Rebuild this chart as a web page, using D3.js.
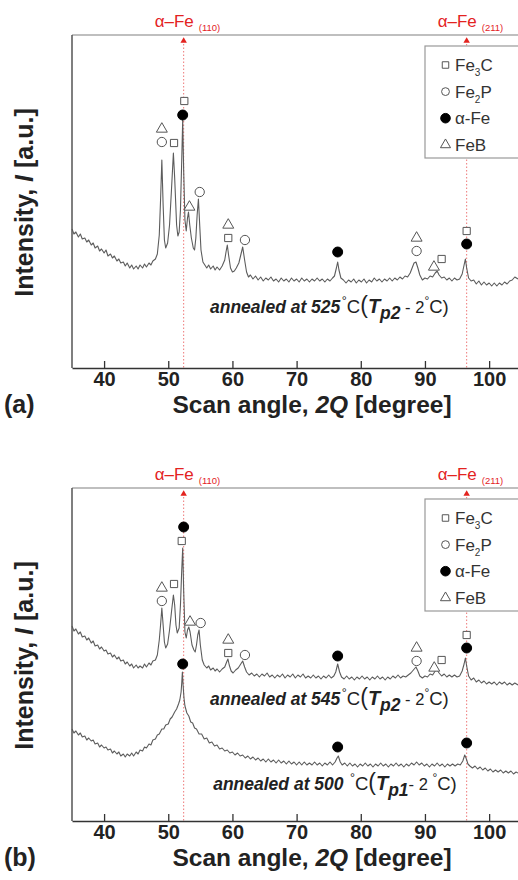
<!DOCTYPE html>
<html><head><meta charset="utf-8">
<script src="https://cdn.jsdelivr.net/npm/d3@7"></script>
<style>body{margin:0;background:#fff} svg{display:block} text{font-family:"Liberation Sans",Arial,Helvetica,sans-serif}</style>
</head><body><svg id="c" width="518" height="880"></svg>
<script>
// ---------------- data ----------------
const angleTicks = [40, 50, 60, 70, 80, 90, 100];
const refLines = [{angle: 52.4, hkl: "(110)"}, {angle: 96.5, hkl: "(211)"}];
const phaseNames = ["Fe3C", "Fe2P", "aFe", "FeB"];

// panel (a): annealed at 525 °C
const traceA525 = [[35.0,139],[35.3,134],[35.6,136],[36.0,131],[36.3,134],[36.6,129],[37.0,130],[37.3,126],[37.6,128],[38.0,123],[38.3,125],[38.6,120],[39.0,122],[39.3,117],[39.6,119],[40.0,115],[40.3,118],[40.6,112],[41.0,114],[41.3,110],[41.6,112],[42.0,107],[42.3,109],[42.6,105],[43.0,106],[43.3,102],[43.6,105],[44.0,100],[44.3,103],[44.6,99],[45.0,102],[45.3,99],[45.6,103],[46.0,100],[46.3,104],[46.6,101],[47.0,105],[47.3,103],[47.6,107],[48.0,109],[48.3,114],[48.6,133],[48.8,168],[49.0,208],[49.2,163],[49.4,128],[49.6,120],[49.9,125],[50.2,143],[50.5,178],[50.8,215],[51.0,190],[51.3,143],[51.5,132],[51.7,136],[51.9,158],[52.1,208],[52.25,248],[52.4,198],[52.6,148],[52.8,137],[53.0,150],[53.15,156],[53.35,143],[53.6,130],[53.9,120],[54.1,118],[54.3,130],[54.5,153],[54.7,169],[54.9,143],[55.1,118],[55.4,106],[55.7,103],[56.0,100],[56.3,103],[56.6,99],[57.0,102],[57.3,98],[57.6,101],[58.0,98],[58.4,102],[58.8,108],[59.0,116],[59.2,123],[59.4,113],[59.7,100],[60.0,96],[60.3,97],[60.6,100],[61.0,105],[61.3,113],[61.6,121],[61.9,108],[62.2,96],[62.5,91],[62.8,93],[63.2,89],[63.6,92],[64.0,88],[64.4,91],[64.8,87],[65.2,90],[65.6,88],[66.0,91],[66.4,87],[66.8,89],[67.2,86],[67.6,90],[68.0,87],[68.4,89],[68.8,86],[69.2,90],[69.6,87],[70.0,89],[70.4,86],[70.8,90],[71.2,87],[71.6,89],[72.0,86],[72.4,89],[72.8,87],[73.2,90],[73.6,87],[74.0,89],[74.4,86],[74.8,89],[75.2,87],[75.6,90],[75.9,92],[76.2,100],[76.4,106],[76.6,98],[76.9,90],[77.3,88],[77.7,85],[78.1,88],[78.5,86],[78.9,89],[79.3,85],[79.7,88],[80.1,86],[80.5,89],[80.9,85],[81.3,88],[81.7,86],[82.1,90],[82.5,87],[82.9,89],[83.3,86],[83.7,89],[84.1,87],[84.5,90],[84.9,87],[85.3,90],[85.7,88],[86.1,91],[86.5,89],[86.9,92],[87.3,91],[87.7,95],[88.0,100],[88.3,105],[88.6,106],[88.9,100],[89.2,93],[89.6,88],[90.0,90],[90.4,89],[90.8,92],[91.2,91],[91.6,95],[91.9,97],[92.2,93],[92.6,90],[93.0,91],[93.4,88],[93.8,90],[94.2,87],[94.6,90],[95.0,88],[95.4,89],[95.8,94],[96.1,103],[96.3,109],[96.5,100],[96.8,90],[97.2,87],[97.6,88],[98.0,84],[98.4,87],[98.8,83],[99.2,86],[99.6,83],[100.0,85],[100.4,82],[100.8,85],[101.2,82],[101.6,85],[102.0,83],[102.4,86],[102.8,84],[103.2,87],[103.6,88],[104.0,91],[104.5,89]];
const markersA525 = [[49.0,239,"FeB"],[49.0,226,"Fe2P"],[50.9,225,"Fe3C"],[52.5,267,"Fe3C"],[52.25,253,"aFe"],[53.3,161,"FeB"],[54.9,176,"Fe2P"],[59.35,143,"FeB"],[59.35,130,"Fe3C"],[61.95,128,"Fe2P"],[76.4,116,"aFe"],[88.7,130,"FeB"],[88.7,117,"Fe2P"],[91.4,101,"FeB"],[92.6,109,"Fe3C"],[96.5,137,"Fe3C"],[96.5,124,"aFe"]];

// panel (b): annealed at 545 °C (upper) and 500 °C (lower)
const traceB545 = [[35.0,195],[35.3,190],[35.6,192],[36.0,187],[36.3,189],[36.6,184],[37.0,185],[37.3,181],[37.6,183],[38.0,178],[38.3,180],[38.6,175],[39.0,176],[39.3,172],[39.6,174],[40.0,170],[40.3,171],[40.6,167],[41.0,168],[41.3,164],[41.6,166],[42.0,162],[42.3,164],[42.6,160],[43.0,161],[43.3,157],[43.6,159],[44.0,155],[44.3,157],[44.6,153],[45.0,156],[45.3,153],[45.6,155],[46.0,153],[46.3,157],[46.6,154],[47.0,158],[47.3,156],[47.6,160],[48.0,161],[48.3,166],[48.6,181],[48.8,196],[49.0,213],[49.2,196],[49.4,179],[49.6,173],[49.9,177],[50.2,191],[50.5,209],[50.8,226],[51.0,216],[51.2,196],[51.4,188],[51.7,193],[51.9,216],[52.1,251],[52.25,273],[52.4,231],[52.6,189],[52.8,183],[53.0,191],[53.2,194],[53.4,189],[53.7,176],[54.0,171],[54.2,169],[54.4,176],[54.6,186],[54.8,191],[55.0,176],[55.3,161],[55.6,156],[56.0,153],[56.3,155],[56.6,151],[57.0,153],[57.3,150],[57.6,152],[58.0,149],[58.4,152],[58.8,154],[59.1,159],[59.3,162],[59.5,156],[59.8,150],[60.1,148],[60.5,151],[60.9,153],[61.3,157],[61.6,160],[61.9,154],[62.2,149],[62.6,146],[63.0,148],[63.4,145],[63.8,147],[64.2,144],[64.6,147],[65.0,145],[65.4,148],[65.8,144],[66.2,146],[66.6,143],[67.0,146],[67.4,144],[67.8,147],[68.2,143],[68.6,146],[69.0,144],[69.4,147],[69.8,143],[70.2,146],[70.6,144],[71.0,147],[71.4,143],[71.8,145],[72.2,143],[72.6,146],[73.0,143],[73.4,145],[73.8,142],[74.2,145],[74.6,143],[75.0,146],[75.4,143],[75.8,145],[76.1,149],[76.4,157],[76.7,149],[77.0,144],[77.4,142],[77.8,145],[78.2,142],[78.6,144],[79.0,141],[79.4,144],[79.8,142],[80.2,145],[80.6,142],[81.0,144],[81.4,141],[81.8,144],[82.2,142],[82.6,145],[83.0,142],[83.4,144],[83.8,141],[84.2,144],[84.6,142],[85.0,145],[85.4,143],[85.8,146],[86.2,143],[86.6,145],[87.0,144],[87.4,146],[87.8,148],[88.2,151],[88.6,154],[88.9,150],[89.2,145],[89.6,143],[90.0,145],[90.4,144],[90.8,147],[91.2,146],[91.6,150],[91.9,151],[92.2,148],[92.6,145],[93.0,147],[93.4,144],[93.8,146],[94.2,144],[94.6,146],[95.0,144],[95.4,145],[95.8,150],[96.1,157],[96.3,163],[96.5,155],[96.8,145],[97.2,141],[97.6,143],[98.0,139],[98.4,141],[98.8,138],[99.2,140],[99.6,137],[100.0,139],[100.4,137],[100.8,139],[101.2,136],[101.6,139],[102.0,137],[102.4,139],[102.8,136],[103.2,138],[103.6,136],[104.0,138],[104.5,136]];
const traceB500 = [[35.0,92],[35.3,88],[35.6,90],[36.0,86],[36.3,88],[36.6,84],[37.0,85],[37.3,81],[37.6,83],[38.0,80],[38.3,81],[38.6,77],[39.0,78],[39.3,74],[39.6,76],[40.0,73],[40.3,74],[40.6,71],[41.0,72],[41.3,68],[41.6,70],[42.0,67],[42.3,69],[42.6,65],[43.0,67],[43.3,64],[43.6,67],[44.0,65],[44.3,68],[44.6,65],[45.0,69],[45.3,67],[45.6,71],[46.0,70],[46.3,74],[46.6,73],[47.0,77],[47.3,76],[47.6,81],[48.0,82],[48.3,86],[48.6,87],[49.0,92],[49.3,92],[49.6,96],[50.0,97],[50.3,102],[50.6,104],[51.0,109],[51.3,112],[51.6,117],[51.8,121],[52.0,129],[52.1,138],[52.2,149],[52.3,137],[52.45,123],[52.6,115],[52.9,108],[53.2,105],[53.5,99],[53.8,98],[54.1,93],[54.4,92],[54.8,87],[55.2,87],[55.6,82],[56.0,83],[56.4,78],[56.8,79],[57.2,75],[57.6,76],[58.0,72],[58.4,73],[58.8,70],[59.2,71],[59.6,68],[60.0,69],[60.4,66],[60.8,68],[61.2,65],[61.6,66],[62.0,63],[62.4,65],[62.8,62],[63.2,64],[63.6,61],[64.0,63],[64.4,60],[64.8,62],[65.2,59],[65.6,62],[66.0,59],[66.4,61],[66.8,58],[67.2,61],[67.6,58],[68.0,60],[68.4,57],[68.8,60],[69.2,57],[69.6,59],[70.0,56],[70.4,59],[70.8,56],[71.2,59],[71.6,56],[72.0,58],[72.4,56],[72.8,59],[73.2,56],[73.6,58],[74.0,55],[74.4,58],[74.8,56],[75.2,59],[75.6,56],[76.0,59],[76.3,63],[76.5,65],[76.8,59],[77.1,56],[77.5,58],[77.9,55],[78.3,58],[78.7,55],[79.1,57],[79.5,54],[79.9,57],[80.3,55],[80.7,58],[81.1,55],[81.5,57],[81.9,54],[82.3,57],[82.7,55],[83.1,58],[83.5,55],[83.9,57],[84.3,54],[84.7,57],[85.1,55],[85.5,58],[85.9,55],[86.3,57],[86.7,54],[87.1,57],[87.5,55],[87.9,58],[88.3,56],[88.7,59],[89.1,56],[89.5,58],[89.9,55],[90.3,57],[90.7,54],[91.1,57],[91.5,55],[91.9,58],[92.3,55],[92.7,57],[93.1,54],[93.5,57],[93.9,55],[94.3,57],[94.7,55],[95.1,57],[95.5,56],[95.9,60],[96.2,66],[96.4,63],[96.7,57],[97.0,55],[97.4,53],[97.8,55],[98.2,52],[98.6,54],[99.0,51],[99.4,53],[99.8,50],[100.2,52],[100.6,49],[101.0,51],[101.4,49],[101.8,51],[102.2,48],[102.6,50],[103.0,48],[103.4,50],[103.8,47],[104.2,49],[104.5,48]];
const markersB545 = [[49.0,233,"FeB"],[49.0,220,"Fe2P"],[50.9,237,"Fe3C"],[52.1,280,"Fe3C"],[52.4,294,"aFe"],[53.4,199,"FeB"],[55.05,198,"Fe2P"],[59.35,181,"FeB"],[59.35,168,"Fe3C"],[61.95,166,"Fe2P"],[76.4,165,"aFe"],[88.7,173,"FeB"],[88.7,160,"Fe2P"],[91.45,153,"FeB"],[92.6,161,"Fe3C"],[96.5,186,"Fe3C"],[96.5,173,"aFe"]];
const markersB500 = [[52.25,157,"aFe"],[76.4,74,"aFe"],[96.5,78,"aFe"]];

// ---------------- drawing ----------------
const svg = d3.select("#c");
const RED = "#e3231f";
const x = d3.scaleLinear().domain([35, 104.5]).range([72, 518]);

const symType = {Fe3C: d3.symbolSquare, Fe2P: d3.symbolCircle, aFe: d3.symbolCircle, FeB: d3.symbolTriangle};
const symSize = {Fe3C: 52, Fe2P: 68, aFe: 78, FeB: 52};
const legSize = {Fe3C: 42, Fe2P: 48, aFe: 72, FeB: 44};
function drawSym(g, name, px, py, sizes) {
  const filled = name === "aFe";
  g.append("path")
    .attr("d", d3.symbol().type(symType[name]).size(sizes[name])())
    .attr("transform", `translate(${px},${py})`)
    .attr("fill", filled ? "#000" : "#fff")
    .attr("stroke", filled ? "#000" : "#555")
    .attr("stroke-width", 1);
}

function note(g, px, py, temp, sub, spaceDeg, dashTxt, spaceDeg2) {
  const t = g.append("text").attr("x", px).attr("y", py).attr("fill", "#222");
  t.append("tspan").attr("font-weight", "bold").attr("font-style", "italic").attr("font-size", 17.5).text("annealed at " + temp + (spaceDeg ? " " : ""));
  t.append("tspan").attr("font-size", 12.5).attr("dy", -8).attr("dx", 1.5).text("°");
  t.append("tspan").attr("font-size", 18.5).attr("dy", 8).text("C");
  t.append("tspan").attr("font-size", 23).text("(");
  t.append("tspan").attr("font-size", 20).attr("font-weight", "bold").attr("font-style", "italic").text("T");
  t.append("tspan").attr("font-size", 17.5).attr("font-weight", "bold").attr("font-style", "italic").attr("dy", 6).text(sub);
  t.append("tspan").attr("font-size", 16.5).attr("dy", -6).text(dashTxt + (spaceDeg2 ? " " : ""));
  t.append("tspan").attr("font-size", 12).attr("dy", -8).text("°");
  t.append("tspan").attr("font-size", 18.5).attr("dy", 8).text("C)");
}

const panels = [
  {top: 35, bottom: 368, tag: "(a)", traces: [traceA525], markers: [markersA525],
   notes: [{a: 56.5, v: 55, temp: "525", sub: "p2", sp: false, dash: " - 2", sp2: false}]},
  {top: 488, bottom: 821, tag: "(b)", traces: [traceB545, traceB500], markers: [markersB545, markersB500],
   notes: [{a: 56.5, v: 116, temp: "545", sub: "p2", sp: false, dash: " - 2", sp2: false},
           {a: 57.0, v: 31, temp: "500", sub: "p1", sp: true, dash: "- 2", sp2: true}]}
];

panels.forEach(p => {
  const g = svg.append("g");
  const y = d3.scaleLinear().domain([0, 333]).range([p.bottom, p.top]);

  // top frame line
  g.append("line").attr("x1", x(35)).attr("x2", 518).attr("y1", p.top).attr("y2", p.top)
    .attr("stroke", "#aaa").attr("stroke-width", 1.5);

  // reference lines (alpha-Fe)
  refLines.forEach(r => {
    const rx = x(r.angle);
    g.append("line").attr("x1", rx).attr("x2", rx).attr("y1", p.top + 9).attr("y2", p.bottom)
      .attr("stroke", "#ee7777").attr("stroke-width", 1).attr("stroke-dasharray", "1.5,2");
    g.append("path").attr("d", d3.symbol().type(d3.symbolTriangle).size(18)())
      .attr("transform", `translate(${rx},${p.top + 6})`).attr("fill", RED);
    const t = g.append("text").attr("x", rx - 29).attr("y", p.top - 8).attr("fill", RED);
    t.append("tspan").attr("font-size", 17).text("α–Fe");
    t.append("tspan").attr("font-size", 9.5).attr("dx", 5).attr("dy", 4).text(r.hkl);
  });

  // legend
  const lg = g.append("g");
  lg.append("rect").attr("x", 425).attr("y", p.top + 11).attr("width", 110).attr("height", 112)
    .attr("fill", "#fff").attr("stroke", "#999").attr("stroke-width", 1.2);
  phaseNames.forEach((n, i) => {
    const ly = p.top + 30 + i * 26.6;
    drawSym(lg, n, 445.5, ly, legSize);
    const t = lg.append("text").attr("x", 455).attr("y", ly + 6).attr("font-size", 17).attr("fill", "#333");
    if (n === "Fe3C" || n === "Fe2P") {
      t.append("tspan").text("Fe");
      t.append("tspan").attr("font-size", 10).attr("dy", 5).text(n.charAt(2));
      t.append("tspan").attr("dy", -5).text(n.charAt(3));
    } else if (n === "aFe") {
      t.text("α-Fe");
    } else {
      t.text("FeB");
    }
  });

  // traces
  const line = d3.line().x(d => x(d[0])).y(d => y(d[1]));
  p.traces.forEach(tr => {
    g.append("path").datum(tr).attr("d", line).attr("fill", "none")
      .attr("stroke", "#5c5c5c").attr("stroke-width", 1.1).attr("stroke-linejoin", "round");
  });

  // phase markers
  p.markers.forEach(ms => ms.forEach(m => drawSym(g, m[2], x(m[0]), y(m[1]), symSize)));

  // annotations
  p.notes.forEach(n => note(g, x(n.a), y(n.v), n.temp, n.sub, n.sp, n.dash, n.sp2));

  // left axis line
  g.append("line").attr("x1", x(35)).attr("x2", x(35)).attr("y1", p.top).attr("y2", p.bottom)
    .attr("stroke", "#555").attr("stroke-width", 1.5);

  // bottom axis
  const ax = g.append("g").attr("transform", `translate(0,${p.bottom})`)
    .call(d3.axisBottom(x).tickValues(angleTicks).tickSize(-7).tickSizeOuter(0).tickPadding(4).tickFormat(d3.format("d")));
  ax.select(".domain").attr("stroke", "#333").attr("stroke-width", 1.5);
  ax.selectAll(".tick line").attr("stroke", "#333").attr("stroke-width", 1.3);
  ax.selectAll(".tick text").attr("font-size", 20).attr("font-weight", "bold").attr("fill", "#222")
    .attr("font-family", '"Liberation Sans",Arial,sans-serif');

  // axis titles
  const xt = g.append("text").attr("x", 312).attr("y", p.bottom + 45).attr("text-anchor", "middle")
    .attr("font-size", 24.5).attr("font-weight", "bold").attr("fill", "#222");
  xt.append("tspan").text("Scan angle, ");
  xt.append("tspan").attr("font-style", "italic").text("2Q");
  xt.append("tspan").text(" [degree]");

  g.append("text").attr("x", 4).attr("y", p.bottom + 45).attr("font-size", 25).attr("font-weight", "bold")
    .attr("fill", "#222").text(p.tag);

  const yt = g.append("text").attr("transform", `translate(33,${(p.top + p.bottom) / 2 + 1}) rotate(-90)`)
    .attr("text-anchor", "middle").attr("font-size", 25).attr("font-weight", "bold").attr("fill", "#222");
  yt.append("tspan").text("Intensity, ");
  yt.append("tspan").attr("font-style", "italic").text("I");
  yt.append("tspan").text(" [a.u.]");
});
</script></body></html>
